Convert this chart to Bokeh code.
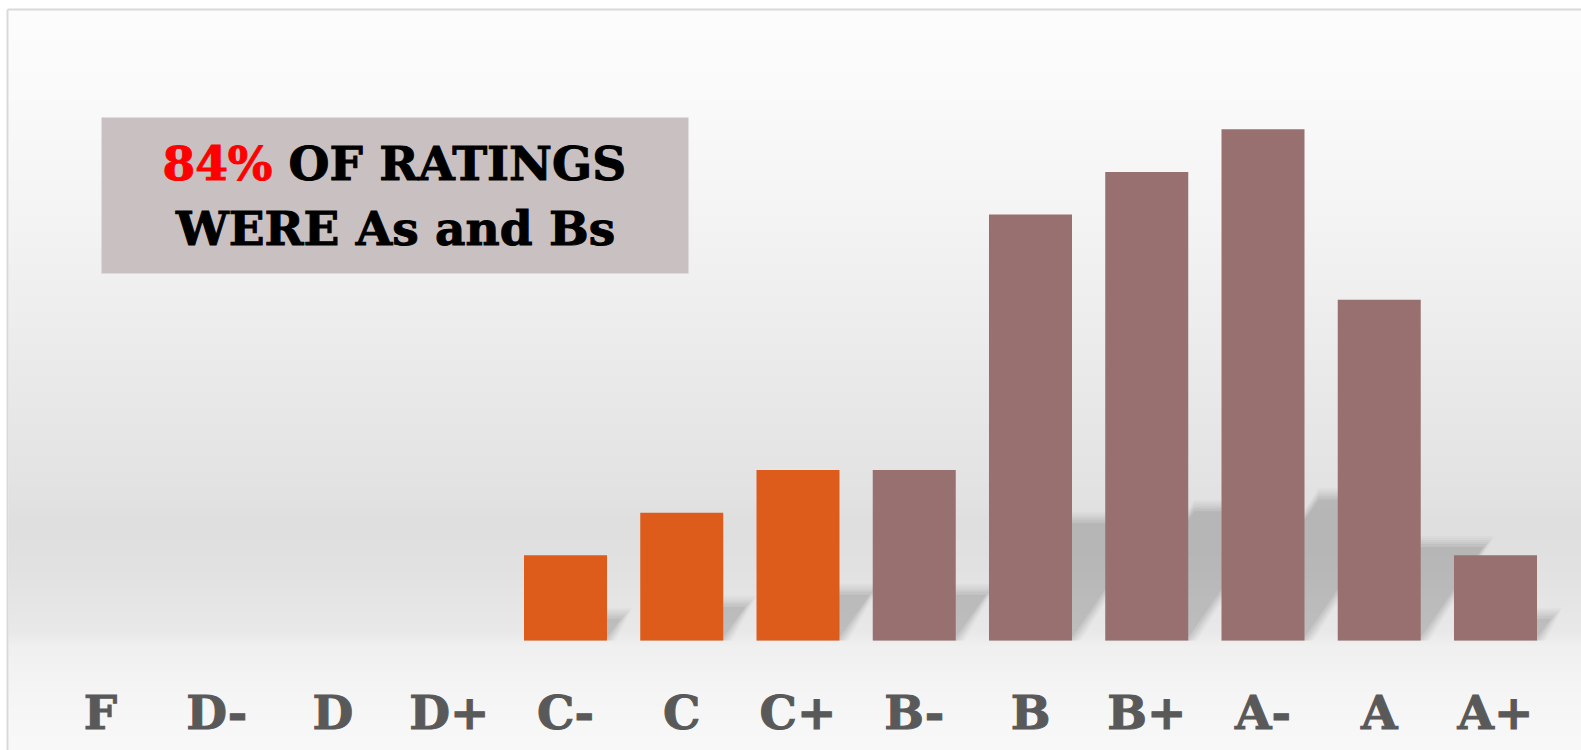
import numpy as np
from bokeh.plotting import figure
from bokeh.models import FixedTicker, Range1d
from bokeh.embed import file_html
from bokeh.resources import INLINE
from bokeh.core.properties import value

# Distribution of ratings by letter grade
grades = ["F", "D-", "D", "D+", "C-", "C", "C+", "B-", "B", "B+", "A-", "A", "A+"]
counts = [0, 0, 0, 0, 2, 3, 4, 4, 10, 11, 12, 8, 2]

ORANGE = "#DD5C1C"
MAUVE = "#98706F"
bar_colors = [MAUVE if g[0] in "AB" else ORANGE for g in grades]

share_ab = sum(c for g, c in zip(grades, counts) if g[0] in "AB") / sum(counts)
headline_pct = f"{round(share_ab * 100)}%"

# Canvas geometry (pixels)
W, H = 1581, 750
SLOT = 116.25        # px per grade slot
X0 = 100.0           # px centre of first slot
BASE = 640.0         # px of the zero line from the top
UNIT = 42.6          # px per rating

def dx(px):
    return (px - X0) / SLOT

def dy(py):
    return (BASE - py) / UNIT

p = figure(width=W, height=H, output_backend="svg", toolbar_location=None,
           x_range=Range1d(dx(0), dx(W)), y_range=Range1d(dy(H), dy(0)),
           min_border=0, outline_line_color=None,
           background_fill_color="white", border_fill_color="white")
p.grid.visible = False
p.yaxis.visible = False

# Backdrop: soft vertical grey gradient (wall fading into floor)
stops_py = [10, 100, 200, 280, 360, 440, 500, 525, 570, 630, 645, 690, 750]
stops_g = [253, 250, 245, 240, 235, 230, 226, 223, 226, 233, 240, 245, 249]
rows = np.arange(H - 10)
gray = np.interp(rows + 10, stops_py, stops_g).astype(np.uint32)
rgba = (255 << 24) | (gray << 16) | (gray << 8) | gray
img = rgba[::-1].reshape(-1, 1)
p.image_rgba(image=[img], x=dx(8), y=dy(H), dw=dx(W) - dx(8), dh=dy(10) - dy(H))

# Frame lines on the left and top
p.line([dx(7), dx(7)], [dy(H), dy(9)], line_color="#d9d9d9", line_width=2)
p.line([dx(7), dx(W)], [dy(9), dy(9)], line_color="#d9d9d9", line_width=2)

# Perspective shadows cast up and to the right of each bar, softened by
# stacking progressively larger, fainter copies
BAR_W = 0.714
shear_x = 0.19 * UNIT / SLOT
shear_y = 0.28
px_x = 1.0 / SLOT
px_y = 1.0 / UNIT
for grow, alpha in [(9, 0.025), (7, 0.03), (5, 0.035), (3, 0.04), (1, 0.05), (-2, 0.08)]:
    xs, ys = [], []
    for i, c in enumerate(counts):
        if c <= 0:
            continue
        xl = i - BAR_W / 2
        xr = i + BAR_W / 2 + grow * px_x
        top = shear_y * c + grow * px_y
        sx = shear_x * c
        xs.append([xl, xr, xr + sx, xl + sx])
        ys.append([0, 0, top, top])
    p.patches(xs, ys, fill_color="#3c3c3c", fill_alpha=alpha, line_color=None)

# Bars
idx = list(range(len(grades)))
p.vbar(x=idx, top=counts, bottom=0, width=BAR_W, fill_color=bar_colors, line_color=None)

# Grade labels on the axis
ax = p.xaxis[0]
ax.fixed_location = 0
ax.ticker = FixedTicker(ticks=idx)
ax.major_label_overrides = {i: g for i, g in enumerate(grades)}
ax.axis_line_color = None
ax.major_tick_line_color = None
ax.minor_tick_line_color = None
ax.major_label_standoff = 38
ax.major_label_text_font = "DejaVu Serif"
ax.major_label_text_font_style = "bold"
ax.major_label_text_font_size = "47px"
ax.major_label_text_color = "#595959"
ax.major_label_text_outline_color = "#595959"

# Headline callout
p.quad(left=dx(101), right=dx(688), top=dy(117), bottom=dy(273),
       fill_color="#C9C0C2", line_color=None)
font = value("DejaVu Serif")
common = dict(text_font=font, text_font_style="bold", text_font_size="47px",
              text_baseline="alphabetic")
p.text(x=[dx(272)], y=[dy(163)], text=[headline_pct], text_color="#FF0000",
       text_outline_color="#FF0000", text_align="right", **common)
p.text(x=[dx(288)], y=[dy(163)], text=["OF RATINGS"], text_color="#000000",
       text_outline_color="#000000", text_align="left", **common)
p.text(x=[dx(395)], y=[dy(228)], text=["WERE As and Bs"], text_color="#000000",
       text_outline_color="#000000", text_align="center", **common)

open("out.html", "w").write(file_html(p, INLINE))
